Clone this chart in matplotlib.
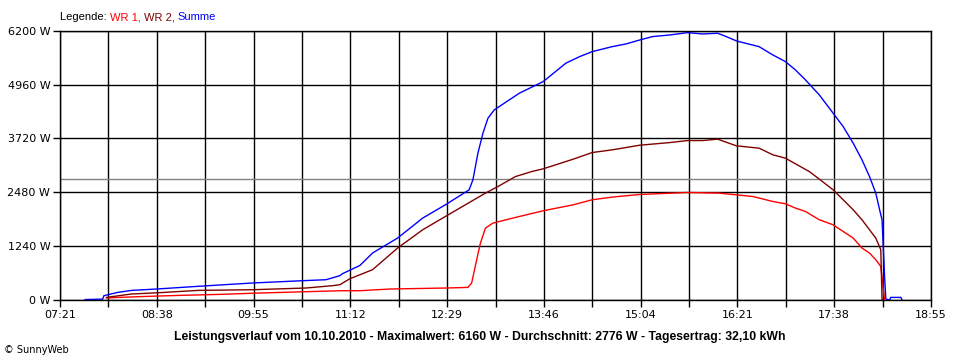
import matplotlib
matplotlib.use("Agg")
import matplotlib.pyplot as plt

sum_times = ["07:41", "07:55", "07:56", "08:07", "08:18", "08:38", "09:10", "09:54",
             "10:34", "10:53", "11:04", "11:06", "11:20", "11:30", "11:50", "12:10",
             "12:29", "12:47", "12:50", "12:54", "12:58", "13:02", "13:04", "13:07",
             "13:27", "13:46", "14:04", "14:15", "14:25", "14:41", "14:52", "15:03",
             "15:13", "15:27", "15:41", "15:53", "16:05", "16:12", "16:20", "16:38",
             "16:49", "16:59", "17:07", "17:15", "17:26", "17:37", "17:45", "17:53",
             "18:00", "18:06", "18:11", "18:15", "18:16", "18:18", "18:19", "18:22",
             "18:23", "18:31", "18:32"]
sum_watts = [10, 20, 100, 175, 221, 253, 313, 391,
             444, 467, 560, 605, 796, 1081, 1426, 1886,
             2208, 2537, 2767, 3381, 3841, 4186, 4262, 4377,
             4761, 5028, 5451, 5603, 5718, 5833, 5895, 5987,
             6064, 6102, 6155, 6125, 6141, 6063, 5964, 5833,
             5642, 5488, 5297, 5067, 4722, 4301, 3993, 3611,
             3227, 2843, 2461, 1962, 1847, 543, 23, 0,
             60, 60, 0]

wr1_times = ["07:58", "08:08", "08:30", "08:56", "09:28", "10:00", "10:37", "11:06",
             "11:20", "11:44", "12:29", "12:46", "12:49", "12:53", "12:56", "13:00",
             "13:06", "13:27", "13:46", "14:10", "14:25", "14:41", "15:03", "15:41",
             "16:06", "16:33", "16:49", "16:59", "17:07", "17:15", "17:26", "17:37",
             "17:45", "17:53", "18:00", "18:06", "18:11", "18:15", "18:18"]
wr1_watts = [46, 60, 83, 106, 129, 161, 191, 214,
             214, 253, 276, 290, 391, 927, 1311, 1656,
             1771, 1923, 2054, 2192, 2307, 2369, 2430, 2475,
             2461, 2383, 2268, 2215, 2116, 2038, 1847, 1732,
             1578, 1426, 1196, 1081, 927, 773, 0]

wr2_times = ["07:58", "08:18", "08:40", "09:11", "09:55", "10:37", "10:58", "11:04",
             "11:12", "11:20", "11:30", "11:50", "12:10", "12:29", "13:00", "13:10",
             "13:24", "13:37", "13:46", "14:10", "14:25", "14:41", "15:03", "15:27",
             "15:41", "15:53", "16:05", "16:20", "16:38", "16:49", "16:59", "17:07",
             "17:18", "17:26", "17:37", "17:45", "17:53", "18:00", "18:06", "18:11",
             "18:15", "18:16"]
wr2_watts = [60, 138, 168, 221, 237, 276, 329, 352,
             490, 582, 697, 1196, 1617, 1939, 2461, 2613,
             2843, 2958, 3020, 3243, 3395, 3457, 3564, 3625,
             3671, 3671, 3703, 3549, 3496, 3342, 3266, 3135,
             2958, 2783, 2537, 2307, 2077, 1847, 1617, 1426,
             1157, 0]

average_w = 2776
y_ticks = [0, 1240, 2480, 3720, 4960, 6200]
x_tick_labels = ["07:21", "08:38", "09:55", "11:12", "12:29",
                 "13:46", "15:04", "16:21", "17:38", "18:55"]


def to_min(hhmm):
    h, m = hhmm.split(":")
    return int(h) * 60 + int(m)


plt.rcParams['font.family'] = ['DejaVu Sans']
fig = plt.figure(figsize=(9.6, 3.6), dpi=100)
ax = fig.add_axes([60 / 960, 1 - 300 / 360, 871 / 960, 269.3 / 360])

t0, t1 = to_min(x_tick_labels[0]), to_min(x_tick_labels[-1])
n_grid = 18
grid_pos = [t0 + (t1 - t0) * i / n_grid for i in range(n_grid + 1)]

ax.set_xlim(t0, t1)
ax.set_ylim(0, 6200)

for gx in grid_pos:
    ax.axvline(gx, color='black', lw=1.0, zorder=1)
for gy in y_ticks:
    ax.axhline(gy, color='black', lw=1.0, zorder=1)
ax.axhline(average_w, color='#808080', lw=1.0, zorder=1)

ax.plot([to_min(t) for t in wr1_times], wr1_watts, color='#FF0000', lw=1.0, zorder=3)
ax.plot([to_min(t) for t in wr2_times], wr2_watts, color='#800000', lw=1.0, zorder=3)
ax.plot([to_min(t) for t in sum_times], sum_watts, color='#0000FF', lw=1.0, zorder=2)

ax.set_xticks(grid_pos)
labels = []
for i in range(len(grid_pos)):
    labels.append(x_tick_labels[i // 2] if i % 2 == 0 else "")
ax.set_xticklabels(labels)
ax.set_yticks(y_ticks)
ax.set_yticklabels([f"{v} W" for v in y_ticks])
ax.tick_params(axis='both', length=5, width=1.0, color='black', labelsize=8, pad=2)
for s in ax.spines.values():
    s.set_linewidth(1.0)
    s.set_color('black')

# Legende oben links, mehrfarbig
fig.canvas.draw()
renderer = fig.canvas.get_renderer()
x_px = 60
legend_parts = [("Legende: ", 'black'), ("WR 1, ", '#FF0000'),
                ("WR 2, ", '#800000'), ("Summe", '#0000FF')]
for txt, col in legend_parts:
    t = fig.text(x_px / 960, 1 - 17 / 360, txt, color=col, fontsize=8,
                 family='Liberation Sans', ha='left', va='center')
    bb = t.get_window_extent(renderer)
    x_px += bb.width

fig.text(480 / 960, 1 - 337 / 360,
         "Leistungsverlauf vom 10.10.2010 - Maximalwert: 6160 W - Durchschnitt: 2776 W - Tagesertrag: 32,10 kWh",
         fontsize=8.85, fontweight='bold', family='Liberation Sans', ha='center', va='center')
fig.text(4 / 960, 1 - 350 / 360, "© SunnyWeb", fontsize=7, ha='left', va='center')

fig.savefig("out.png", dpi=100)
